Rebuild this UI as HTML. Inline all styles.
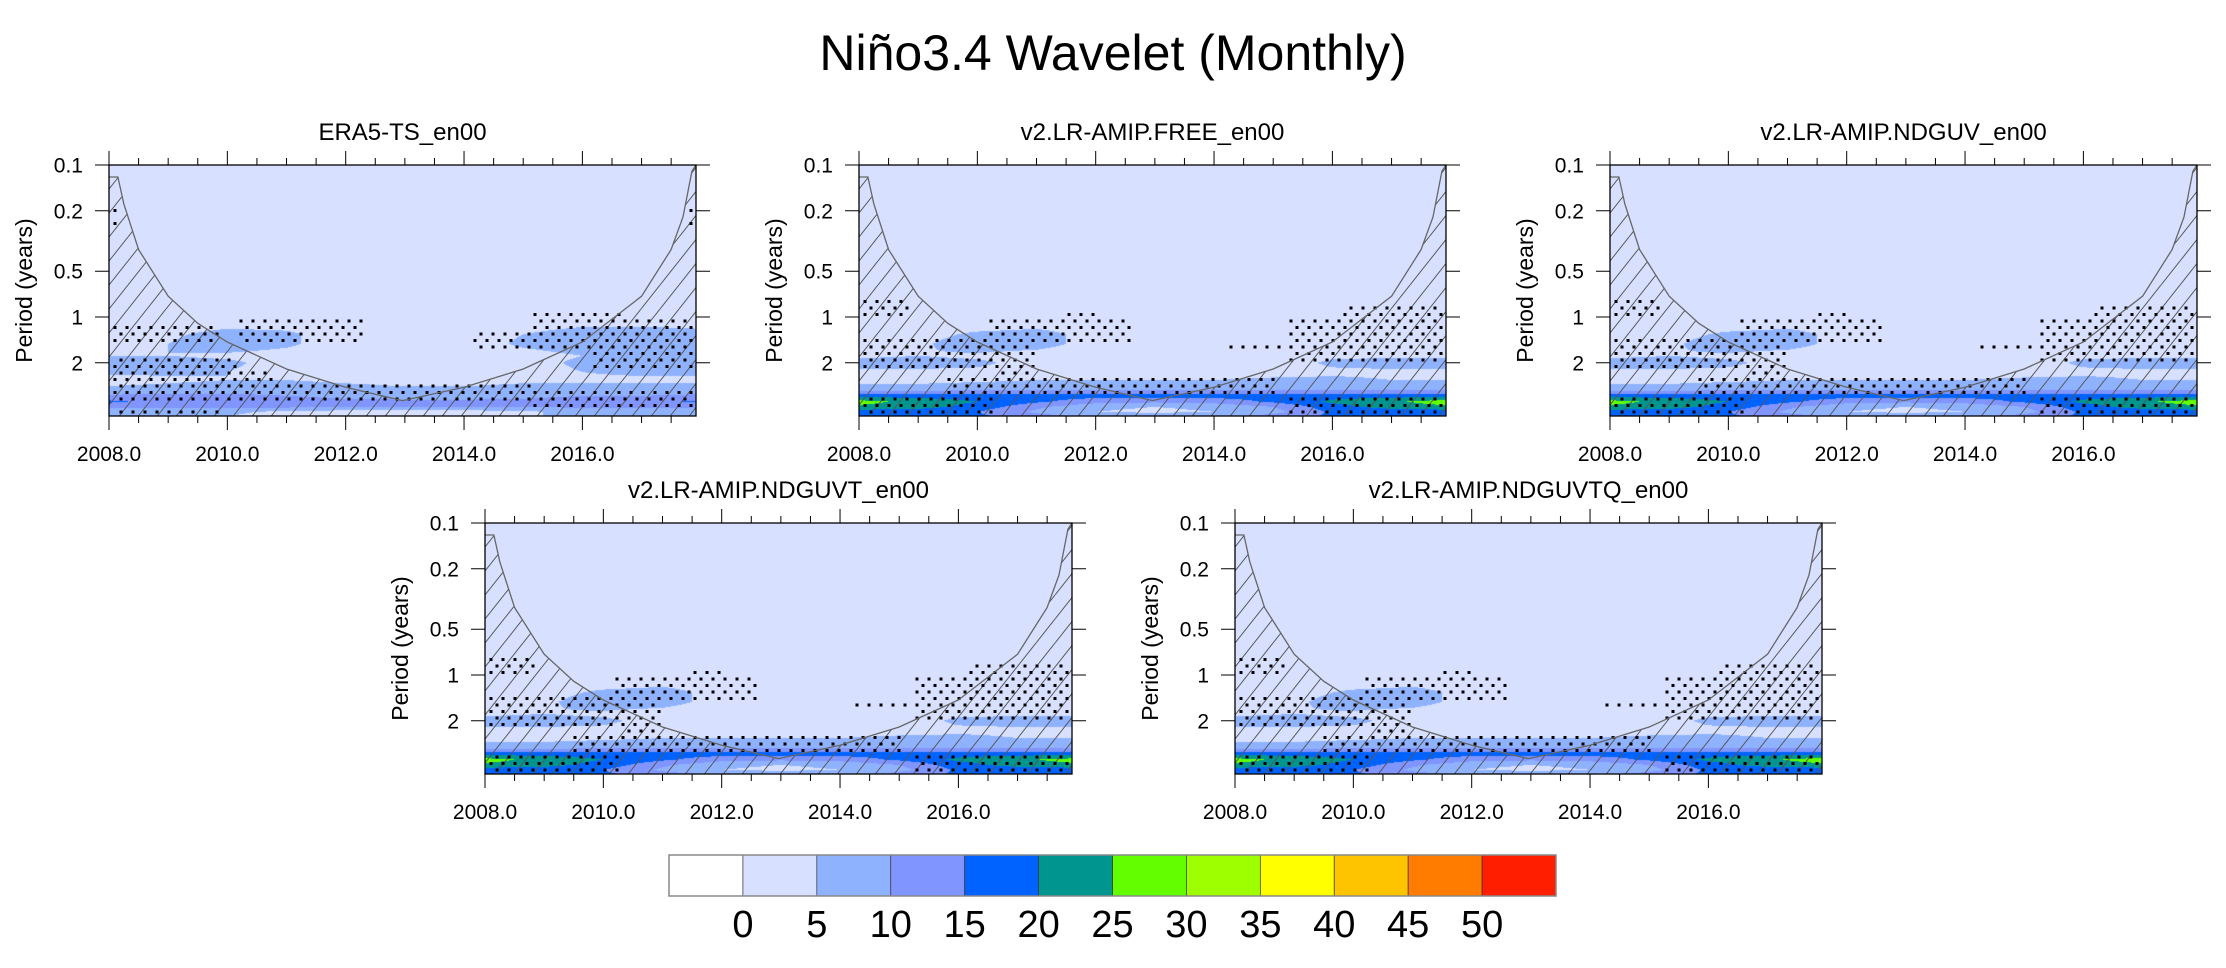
<!DOCTYPE html>
<html><head><meta charset="utf-8">
<style>
html,body{margin:0;padding:0;background:#fff;}
body{width:2226px;height:968px;position:relative;overflow:hidden;font-family:"Liberation Sans",sans-serif;}
.abs{position:absolute;}
canvas{position:absolute;}
svg{position:absolute;left:0;top:0;}
</style></head>
<body>
<div class="abs" style="left:0;top:23px;width:2226px;text-align:center;font-size:50px;line-height:60px;">Niño3.4 Wavelet (Monthly)</div>
<div id="root"></div>
<svg id="cb" width="2226" height="968"></svg>
<script>
// ---------------- data ----------------
const yearCols = [2008,2009,2010,2011,2012,2013,2014,2015,2016,2017,2018];
const periodRows = [0.1,0.8,1.1,1.3,1.5,1.8,2.0,2.3,2.6,3.0,3.3,3.6,3.9,4.2,4.5];
const levelLabels = ["0","5","10","15","20","25","30","35","40","45","50"];
const levelColors = ["#ffffff","#d7e1ff","#8fb2ff","#8095ff","#0063ff","#00968f","#63ff00","#9dff00","#ffff00","#ffc400","#ff7c00","#ff1e00"];
const xTickYears = [2008,2010,2012,2014,2016];
const yTickPeriods = [0.1,0.2,0.5,1,2];
const yTickLabels = ["0.1","0.2","0.5","1","2"];
const coiYears =   [2008.0,2008.15,2008.25,2008.5,2009,2009.5,2010,2011,2012,2012.96,2014,2015,2016,2017,2017.5,2017.7,2017.85,2017.92];
const coiPeriods = [0.12,0.12,0.18,0.36,0.73,1.1,1.46,2.2,2.9,3.55,2.9,2.2,1.46,0.73,0.36,0.22,0.11,0.1];

const powerERA5 = [
[2,2,2,2,2,2,2,2,2,2,2],
[2,2,2,2,2,2,2,2,2,2,2],
[2,2,3,3,2,2,2,3,4,4,4],
[3,4,7,6,2,2,2,5,7,7,6],
[3,5,8,6,2,2,2,6,8,8,7],
[5,5,4,3,2,2,2,3,5,6,5],
[7,7,6,3,2,2,2,3,6,7,7],
[6,6,5,3,2,2,2,3,5,6,6],
[3,4,5,5,4,3,3,4,4,4,4],
[6,7,8,8,7,6,6,7,7,7,7],
[11,11,11,10,9,8,8,9,10,10,11],
[16,13,12,12,11,11,11,11,12,13,16],
[11,11,11,11,10,10,10,10,11,11,11],
[7,7,6,4,3,3,3,4,7,8,8],
[6,6,5,3,2,2,2,4,7,7,7]];
const powerFREE = [
[2,2,2,2,2,2,2,2,2,2,2],
[2,2,2,2,2,2,2,2,2,2,2],
[2,2,2,3,2,2,2,2,3,3,3],
[3,3,6,7,3,2,2,2,3,3,3],
[3,4,8,7,3,2,2,2,3,3,3],
[4,5,4,3,2,2,2,2,4,4,4],
[7,7,6,3,2,2,2,2,6,7,7],
[4,4,4,3,2,2,2,3,4,4,4],
[3,3,4,5,5,5,5,6,6,5,5],
[8,8,9,9,9,9,9,9,9,9,9],
[18,18,18,17,17,17,17,17,18,18,18],
[27,23,20,16,12,11,12,16,21,24,28],
[24,22,18,11,6,5,6,10,18,22,24],
[17,17,15,9,5,4,5,8,16,17,17],
[17,17,16,12,9,8,9,12,16,17,17]];
const powerNDGUV = [
[2,2,2,2,2,2,2,2,2,2,2],
[2,2,2,2,2,2,2,2,2,2,2],
[2,2,2,3,2,2,2,2,3,3,3],
[3,3,6,7,3,2,2,2,3,3,3],
[3,4,8,7,3,2,2,2,3,3,3],
[4,5,4,3,2,2,2,2,4,4,4],
[7,7,6,3,2,2,2,2,6,7,7],
[4,4,4,3,2,2,2,3,4,4,4],
[3,3,4,5,5,5,5,6,6,5,5],
[8,8,9,9,9,9,9,9,9,9,9],
[18,18,18,17,17,17,17,17,18,18,18],
[27,23,20,16,12,11,12,16,21,24,28],
[24,22,18,11,6,5,6,10,18,22,24],
[17,17,15,9,5,4,5,8,16,17,17],
[17,17,16,12,9,8,9,12,16,17,17]];
const powerNDGUVT = [
[2,2,2,2,2,2,2,2,2,2,2],
[2,2,2,2,2,2,2,2,2,2,2],
[2,2,2,3,2,2,2,2,3,3,3],
[3,3,6,7,3,2,2,2,3,3,3],
[3,4,8,7,3,2,2,2,3,3,3],
[4,5,4,3,2,2,2,2,4,4,4],
[7,7,6,3,2,2,2,2,6,7,7],
[4,4,4,3,2,2,2,3,4,4,4],
[3,3,4,5,5,5,5,6,6,5,5],
[8,8,9,9,9,9,9,9,9,9,9],
[18,18,18,17,17,17,17,17,18,18,18],
[27,23,20,16,12,11,12,16,21,24,27],
[24,22,18,11,6,5,6,10,18,22,24],
[17,17,15,9,5,4,5,8,16,17,17],
[17,17,16,12,9,8,9,12,16,17,17]];
const powerNDGUVTQ = [
[2,2,2,2,2,2,2,2,2,2,2],
[2,2,2,2,2,2,2,2,2,2,2],
[2,2,2,3,2,2,2,2,3,3,3],
[3,3,6,7,3,2,2,2,3,3,3],
[3,4,8,7,3,2,2,2,3,3,3],
[4,5,4,3,2,2,2,2,4,4,4],
[7,7,6,3,2,2,2,2,6,7,7],
[4,4,4,3,2,2,2,3,4,4,4],
[3,3,4,5,5,5,5,6,6,5,5],
[8,8,9,9,9,9,9,9,9,9,9],
[18,18,18,17,17,17,17,17,18,18,18],
[27,23,20,16,12,11,12,16,21,24,28],
[24,22,18,11,6,5,6,10,18,22,24],
[17,17,15,9,5,4,5,8,16,17,17],
[17,17,16,12,9,8,9,12,16,17,17]];

const stippleERA5 = [
[2008.05,2009.9,1.15,1.55],[2010.2,2012.3,1.05,1.55],[2008.05,2010.2,1.9,2.3],
[2008.05,2010.8,2.3,2.6],[2008.05,2015.3,2.6,3.75],[2008.05,2010.0,3.9,4.4],
[2015.1,2016.7,0.95,1.2],[2014.1,2018,1.25,1.65],[2016.2,2018,1.0,2.3],
[2015.0,2018,3.0,4.2],[2008.05,2008.2,0.19,0.26],[2017.75,2017.92,0.18,0.25]];
const stippleModel = [
[2008.1,2008.9,0.75,1.0],[2008.05,2011.0,1.3,2.3],[2010.2,2012.6,1.05,1.5],
[2011.5,2012.0,0.95,1.05],[2009.5,2015.0,2.5,3.4],[2008.0,2010.3,3.3,4.5],
[2015.2,2018,3.2,4.5],[2014.2,2016,1.48,1.65],[2015.3,2018,1.0,2.1],
[2016.2,2018,0.8,1.0],[2010.3,2011.0,2.1,2.5]];

const panels = [
 {title:"ERA5-TS_en00", name:"panel-era5", left:109, top:165, power:powerERA5, stip:stippleERA5},
 {title:"v2.LR-AMIP.FREE_en00", name:"panel-free", left:859, top:165, power:powerFREE, stip:stippleModel},
 {title:"v2.LR-AMIP.NDGUV_en00", name:"panel-ndguv", left:1610, top:165, power:powerNDGUV, stip:stippleModel},
 {title:"v2.LR-AMIP.NDGUVT_en00", name:"panel-ndguvt", left:485, top:523, power:powerNDGUVT, stip:stippleModel},
 {title:"v2.LR-AMIP.NDGUVTQ_en00", name:"panel-ndguvtq", left:1235, top:523, power:powerNDGUVTQ, stip:stippleModel}];

// ---------------- drawing ----------------
const W=587, H=251, T0=2008, T1=2017.92, PD=152;
const xOf = t => (t-T0)/(T1-T0)*W;
const yOf = p => PD*Math.log10(p/0.1);
const NS="http://www.w3.org/2000/svg";
const root=document.getElementById('root');

function sample(grid,t,p){
  let c=Math.max(0,Math.min(yearCols.length-1.0001,(t-yearCols[0])/(yearCols[1]-yearCols[0])));
  let ci=Math.floor(c), cf=c-ci;
  let lp=Math.log(p), ri=0;
  while(ri<periodRows.length-2 && Math.log(periodRows[ri+1])<lp) ri++;
  let a=Math.log(periodRows[ri]), b=Math.log(periodRows[ri+1]);
  let rf=Math.max(0,Math.min(1,(lp-a)/(b-a)));
  const v0=grid[ri][ci]*(1-cf)+grid[ri][ci+1]*cf;
  const v1=grid[ri+1][ci]*(1-cf)+grid[ri+1][ci+1]*cf;
  return v0*(1-rf)+v1*rf;
}
function colorFor(v){ if(v<0) return levelColors[0]; return levelColors[Math.min(11,Math.floor(v/5)+1)]; }
function el(tag,attrs,parent){const e=document.createElementNS(NS,tag);for(const k in attrs)e.setAttribute(k,attrs[k]);parent.appendChild(e);return e;}

panels.forEach((P,pi)=>{
  const cv=document.createElement('canvas');
  cv.width=W; cv.height=H;
  cv.style.left=P.left+'px'; cv.style.top=P.top+'px';
  
  
  root.appendChild(cv);
  const ctx=cv.getContext('2d');
  for(let y=0;y<H;y++){
    const p=0.1*Math.pow(10,(y+0.5)/PD);
    let runC=null, runX=0;
    for(let x=0;x<=W;x++){
      let c=null;
      if(x<W){const t=T0+(x+0.5)/W*(T1-T0); c=colorFor(sample(P.power,t,p));}
      if(c!==runC){ if(runC){ctx.fillStyle=runC;ctx.fillRect(runX,y,x-runX,1);} runC=c; runX=x; }
    }
  }
  const svg=document.createElementNS(NS,'svg');
  svg.setAttribute('width',2226); svg.setAttribute('height',968);
  
  
  root.appendChild(svg);
  const g=el('g',{transform:`translate(${P.left},${P.top})`},svg);
  const defs=el('defs',{},g);
  const pat=el('pattern',{id:'hatch'+pi,patternUnits:'userSpaceOnUse',width:19,height:24},defs);
  el('line',{x1:0,y1:24,x2:19,y2:0,stroke:'#555',"stroke-width":1},pat);
  el('line',{x1:-19,y1:24,x2:0,y2:0,stroke:'#555',"stroke-width":1},pat);
  el('line',{x1:19,y1:24,x2:38,y2:0,stroke:'#555',"stroke-width":1},pat);
  let pts=coiYears.map((t,i)=>`${xOf(t).toFixed(1)},${yOf(coiPeriods[i]).toFixed(1)}`);
  const hatch=el('polygon',{points:pts.join(' ')+` ${W},${H} 0,${H}`,fill:`url(#hatch${pi})`},g);
  
  
  const sg=el('g',{fill:'#000'},g);
  
  
  P.stip.forEach(r=>{
    const x0=xOf(r[0]), x1=xOf(r[1]), y0=yOf(r[2]), y1=yOf(r[3]);
    for(let row=Math.ceil(y0/6.5); row*6.5<=y1; row++){
      const off=(row%2)?6:0;
      for(let col=Math.ceil((x0-off)/12); col*12+off<=x1; col++){
        const xx=col*12+off, yy=row*6.5;
        if(xx<1||xx>W-2||yy<1||yy>H-2) continue;
        el('rect',{x:xx-1.5,y:yy-1.5,width:3,height:3},sg);
      }
    }
  });
  const coi=el('polyline',{points:pts.join(' '),fill:'none',stroke:'#666',"stroke-width":1.3},g);
  
  
  el('rect',{x:0,y:0,width:W,height:H,fill:'none',stroke:'#000',"stroke-width":1.3},g);
  for(let t=2008;t<=2017.9;t+=0.5){
    const x=xOf(t), major=(Math.abs(t%2)<0.01);
    const L=major?14:7;
    el('line',{x1:x,y1:0,x2:x,y2:-L,stroke:'#000',"stroke-width":1},g);
    el('line',{x1:x,y1:H,x2:x,y2:H+L,stroke:'#000',"stroke-width":1},g);
  }
  xTickYears.forEach(t=>{
    const tx=el('text',{x:xOf(t),y:H+45,"text-anchor":"middle","font-size":21,"font-family":"Liberation Sans, sans-serif"},g);
    tx.textContent=t.toFixed(1);
    
    
  });
  yTickPeriods.forEach((p,i)=>{
    const y=yOf(p);
    el('line',{x1:0,y1:y,x2:-14,y2:y,stroke:'#000',"stroke-width":1},g);
    el('line',{x1:W,y1:y,x2:W+14,y2:y,stroke:'#000',"stroke-width":1},g);
    const tx=el('text',{x:-26,y:y+7.5,"text-anchor":"end","font-size":21,"font-family":"Liberation Sans, sans-serif"},g);
    tx.textContent=yTickLabels[i];
    
    
  });
  const yt=el('text',{x:0,y:0,transform:`translate(-77,${H/2}) rotate(-90)`,"text-anchor":"middle","font-size":23,"font-family":"Liberation Sans, sans-serif"},g);
  yt.textContent="Period (years)";
  
  
  const tt=el('text',{x:W/2,y:-25,"text-anchor":"middle","font-size":24,"font-family":"Liberation Sans, sans-serif"},g);
  tt.textContent=P.title;
  
  
});

// colorbar
const cb=document.getElementById('cb');
const CBX=669, CBW=887, CBY=855, CBH=41, cw=CBW/levelColors.length;
levelColors.forEach((c,i)=>{
  const r=el('rect',{x:CBX+i*cw,y:CBY,width:cw,height:CBH,fill:c,stroke:'#333',"stroke-width":0.7},cb);
  
  
});
el('rect',{x:CBX,y:CBY,width:CBW,height:CBH,fill:'none',stroke:'#888',"stroke-width":1.5},cb);
levelLabels.forEach((s,i)=>{
  const t=el('text',{x:CBX+(i+1)*cw,y:937,"text-anchor":"middle","font-size":38,"font-family":"Liberation Sans, sans-serif"},cb);
  t.textContent=s;
  
  
});
</script>
</body></html>
